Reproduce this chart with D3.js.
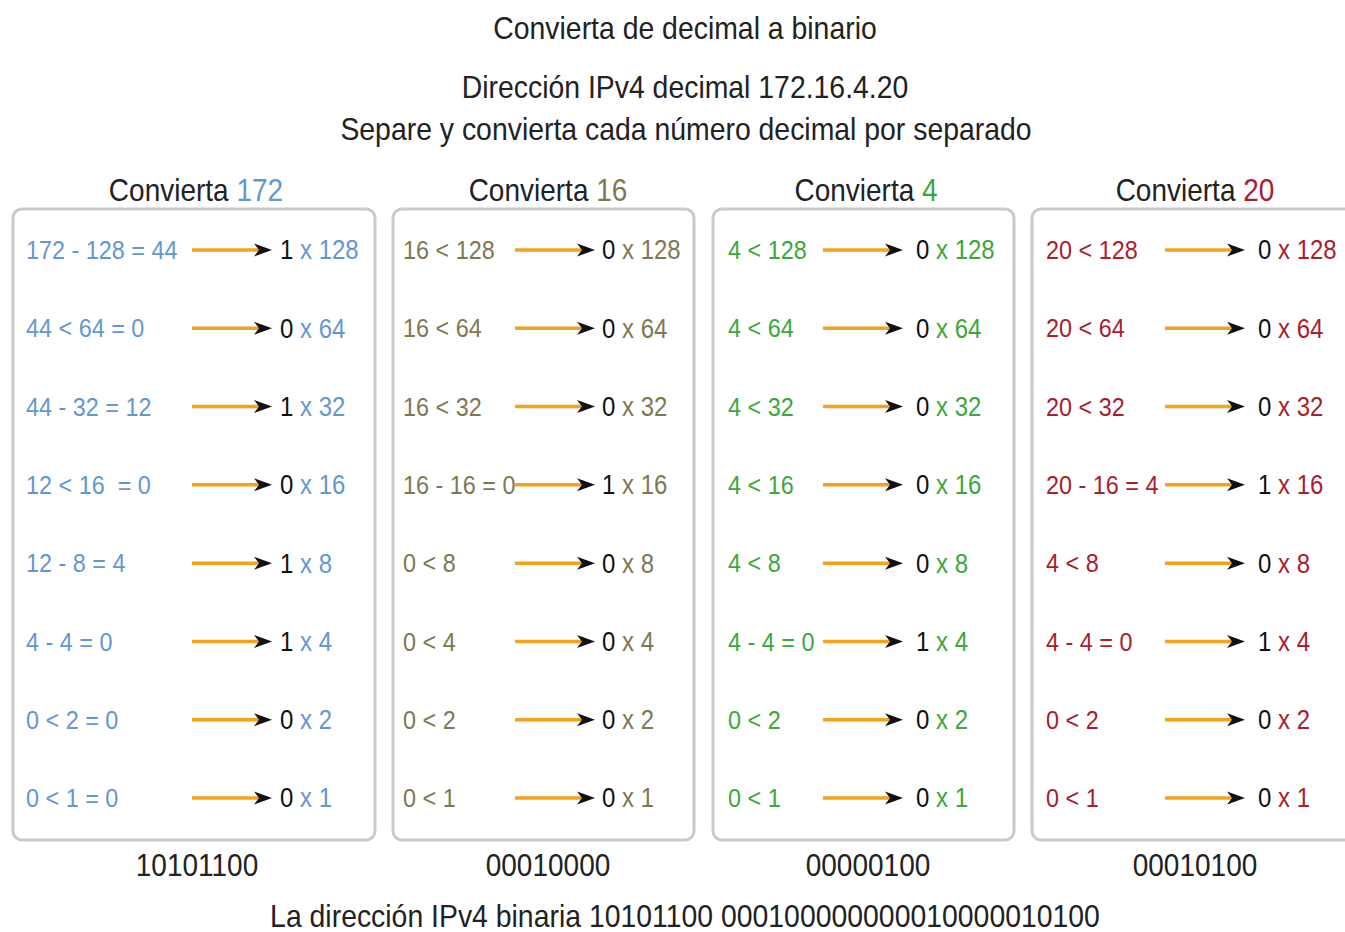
<!DOCTYPE html>
<html>
<head>
<meta charset="utf-8">
<script src="https://cdn.jsdelivr.net/npm/d3@7"></script>
<style>
  body { margin: 0; background: #fff; }
  svg { display: block; font-family: "Liberation Sans", Arial, sans-serif; }
  text { white-space: pre; }
</style>
</head>
<body>
<svg width="1345" height="932"></svg>
<script>
// ---- data ----
var weights = [128, 64, 32, 16, 8, 4, 2, 1];
var decimals = [172, 16, 4, 20];

var steps172 = ["172 - 128 = 44", "44 < 64 = 0", "44 - 32 = 12", "12 < 16  = 0", "12 - 8 = 4", "4 - 4 = 0", "0 < 2 = 0", "0 < 1 = 0"];
var steps16  = ["16 < 128", "16 < 64", "16 < 32", "16 - 16 = 0", "0 < 8", "0 < 4", "0 < 2", "0 < 1"];
var steps4   = ["4 < 128", "4 < 64", "4 < 32", "4 < 16", "4 < 8", "4 - 4 = 0", "0 < 2", "0 < 1"];
var steps20  = ["20 < 128", "20 < 64", "20 < 32", "20 - 16 = 4", "4 < 8", "4 - 4 = 0", "0 < 2", "0 < 1"];

var bits172 = [1, 0, 1, 0, 1, 1, 0, 0];
var bits16  = [0, 0, 0, 1, 0, 0, 0, 0];
var bits4   = [0, 0, 0, 0, 0, 1, 0, 0];
var bits20  = [0, 0, 0, 1, 0, 1, 0, 0];

var binaries = ["10101100", "00010000", "00000100", "00010100"];

var title = "Convierta de decimal a binario";
var subtitle1 = "Dirección IPv4 decimal 172.16.4.20";
var subtitle2 = "Separe y convierta cada número decimal por separado";
var footer = "La dirección IPv4 binaria";

// ---- layout / style ----
var colColors = ["#6397d2", "#7e7852", "#3aa83a", "#a82030"];
var boxLeft  = [13, 393, 713, 1032];
var boxRight = [375, 694, 1014, 1358];
var headX    = [196, 548, 866, 1195];
var binX     = [197, 548, 868, 1195];
var textPad  = [13, 10, 15, 14];
var arrowStart = [192, 515, 823, 1165];
var arrowEnd   = [272, 595, 903, 1245];
var bitX       = [280, 602, 916, 1258];
var stretch = 1.12;   // source glyphs look a bit taller than Arial

var columns = decimals.map(function(d, i) {
  return {
    decimal: d,
    steps: [steps172, steps16, steps4, steps20][i],
    bits: [bits172, bits16, bits4, bits20][i],
    binary: binaries[i],
    color: colColors[i],
    x0: boxLeft[i], x1: boxRight[i], hx: headX[i], nx: binX[i], pad: textPad[i],
    a0: arrowStart[i], a1: arrowEnd[i], bx: bitX[i]
  };
});

var svg = d3.select("svg");

var y = d3.scalePoint().domain(weights).range([250, 798]);

function bigText(x, yy, s) {
  return svg.append("g")
      .attr("transform", "translate(" + x + "," + yy + ") scale(1," + stretch + ")")
    .append("text")
      .attr("dy", "0.35em")
      .attr("text-anchor", "middle")
      .attr("font-size", 28.4)
      .attr("fill", "#222")
      .text(s);
}

// titles
bigText(685, 28, title);
bigText(685, 87, subtitle1);
bigText(686, 129, subtitle2);

var col = svg.selectAll(".col")
  .data(columns)
  .enter().append("g")
    .attr("class", "col");

// boxes
col.append("rect")
  .attr("x", function(d) { return d.x0; })
  .attr("y", 209)
  .attr("width", function(d) { return d.x1 - d.x0; })
  .attr("height", 631)
  .attr("rx", 9)
  .attr("fill", "#fff")
  .attr("stroke", "#cacaca")
  .attr("stroke-width", 3);

// header
var head = col.append("g")
    .attr("transform", function(d) { return "translate(" + d.hx + ",190) scale(1," + stretch + ")"; })
  .append("text")
    .attr("dy", "0.35em")
    .attr("text-anchor", "middle")
    .attr("font-size", 28)
    .attr("fill", "#222");
head.append("tspan").text("Convierta ");
head.append("tspan").attr("fill", function(d) { return d.color; }).text(function(d) { return d.decimal; });

// binary result under box
col.append("g")
    .attr("transform", function(d) { return "translate(" + d.nx + ",865) scale(1," + stretch + ")"; })
  .append("text")
    .attr("dy", "0.35em")
    .attr("text-anchor", "middle")
    .attr("font-size", 28)
    .attr("fill", "#222")
    .text(function(d) { return d.binary; });

// rows
var row = col.selectAll(".row")
  .data(function(d) {
    return weights.map(function(w, i) {
      return {w: w, step: d.steps[i], bit: d.bits[i], c: d};
    });
  })
  .enter().append("g")
    .attr("class", "row")
    .attr("transform", function(d) { return "translate(0," + y(d.w) + ")"; });

row.append("text")
  .attr("transform", function(d) { return "translate(" + (d.c.x0 + d.c.pad) + ",0) scale(1," + stretch + ")"; })
  .attr("dy", "0.35em")
  .attr("font-size", 23.4)
  .attr("fill", function(d) { return d.c.color; })
  .text(function(d) { return d.step; });

row.append("line")
  .attr("x1", function(d) { return d.c.a0; })
  .attr("x2", function(d) { return d.c.a1 - 10; })
  .attr("stroke", "#f5a11c")
  .attr("stroke-width", 3.5);

row.append("path")
  .attr("d", function(d) {
    var t = d.c.a1;
    return "M" + t + ",0L" + (t - 18) + ",-6.5L" + (t - 13) + ",0L" + (t - 18) + ",6.5Z";
  })
  .attr("fill", "#111");

var res = row.append("text")
  .attr("transform", function(d) { return "translate(" + d.c.bx + ",0) scale(1," + stretch + ")"; })
  .attr("dy", "0.35em")
  .attr("font-size", 24)
  .attr("fill", function(d) { return d.c.color; });
res.append("tspan").attr("fill", "#111").text(function(d) { return d.bit; });
res.append("tspan").text(function(d) { return " x " + d.w; });

// footer
bigText(685, 916, footer + " " + binaries[0] + " " + binaries.slice(1).join(""));
</script>
</body>
</html>
